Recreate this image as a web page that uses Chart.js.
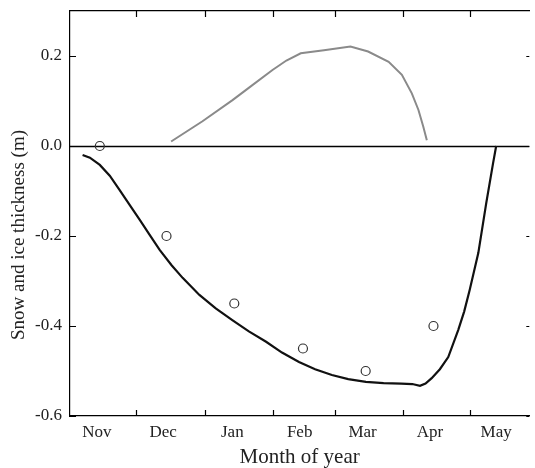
<!DOCTYPE html>
<html>
<head>
<meta charset="utf-8">
<script src="https://cdn.jsdelivr.net/npm/chart.js@4/dist/chart.umd.min.js"></script>
<style>
  html, body { margin: 0; padding: 0; background: #fff; }
  #wrap { width: 535px; height: 468px; }
</style>
</head>
<body>
<div id="wrap"><canvas id="chart"></canvas></div>
<script>
// days counted from 1 November
const iceDays = [5.7, 9, 13.5, 18, 22.5, 27, 31.6, 36, 40.6, 46, 51, 58.6, 66, 73.5, 81, 88.8, 96, 103.7, 111, 118.6, 126, 134, 142, 150, 155, 158.5, 161, 163.8, 167.5, 171.3, 175.8, 178.5, 181, 184.9, 188.5, 191.6, 193];
const iceThickness = [-0.020, -0.026, -0.042, -0.066, -0.098, -0.131, -0.164, -0.197, -0.231, -0.265, -0.293, -0.331, -0.361, -0.387, -0.412, -0.435, -0.459, -0.480, -0.496, -0.509, -0.518, -0.524, -0.527, -0.528, -0.529, -0.533, -0.528, -0.516, -0.496, -0.469, -0.409, -0.368, -0.320, -0.238, -0.127, -0.038, 0.000];

const snowDays = [45.8, 60, 73.6, 82, 91.7, 98, 104.5, 115, 127, 135, 144.3, 150.3, 154.8, 157.8, 160, 161.6];
const snowThickness = [0.010, 0.055, 0.102, 0.133, 0.169, 0.190, 0.206, 0.213, 0.221, 0.210, 0.187, 0.158, 0.117, 0.080, 0.043, 0.013];

const obsDays = [13.5, 43.7, 74.4, 105.5, 133.9, 164.6];
const obsThickness = [0.0, -0.2, -0.35, -0.45, -0.5, -0.4];

const monthLabels = ["Nov", "Dec", "Jan", "Feb", "Mar", "Apr", "May"];
const monthLabelDays = [12.2, 42.2, 73.5, 104, 132.5, 163, 193];
const monthStartDays = [30, 61, 92, 120, 151, 181];
const yTicks = [-0.6, -0.4, -0.2, 0.0, 0.2];

const FONT = "'Liberation Serif', 'Times New Roman', serif";

function pts(xs, ys) {
  return xs.map((x, i) => ({ x: x, y: ys[i] }));
}

// inward tick marks, zero line and the y title
const frame = {
  id: "frame",
  beforeDatasetsDraw(chart) {
    const { ctx, chartArea: a, scales } = chart;
    const y0 = Math.round(scales.y.getPixelForValue(0)) + 0.5;
    ctx.save();
    ctx.strokeStyle = "#000";
    ctx.lineWidth = 1.3;
    ctx.beginPath();
    ctx.moveTo(a.left, y0);
    ctx.lineTo(a.right, y0);
    ctx.stroke();
    ctx.restore();
  },
  afterDraw(chart) {
    const { ctx, chartArea: a, scales } = chart;
    ctx.save();
    ctx.strokeStyle = "#000";
    ctx.lineWidth = 1.2;
    ctx.beginPath();
    monthStartDays.forEach((d) => {
      const x = Math.round(scales.x.getPixelForValue(d)) + 0.5;
      ctx.moveTo(x, a.bottom);
      ctx.lineTo(x, a.bottom - 6);
      ctx.moveTo(x, a.top);
      ctx.lineTo(x, a.top + 6);
    });
    yTicks.forEach((v) => {
      const y = Math.round(scales.y.getPixelForValue(v)) + 0.5;
      ctx.moveTo(a.left, y);
      ctx.lineTo(a.left + 6, y);
      ctx.moveTo(a.right, y);
      ctx.lineTo(a.right - 3, y);
    });
    ctx.stroke();

    ctx.fillStyle = "#222";
    ctx.font = "19px " + FONT;
    ctx.textAlign = "center";
    ctx.textBaseline = "middle";
    ctx.translate(19, 235);
    ctx.rotate(-Math.PI / 2);
    ctx.fillText("Snow and ice thickness (m)", 0, 0);
    ctx.restore();
  },
};

new Chart(document.getElementById("chart"), {
  type: "scatter",
  data: {
    datasets: [
      {
        label: "Snow",
        data: pts(snowDays, snowThickness),
        showLine: true,
        borderColor: "#8a8a8a",
        borderWidth: 2,
        pointRadius: 0,
        tension: 0,
      },
      {
        label: "Ice",
        data: pts(iceDays, iceThickness),
        showLine: true,
        borderColor: "#111",
        borderWidth: 2.2,
        pointRadius: 0,
        tension: 0,
      },
      {
        label: "Observed",
        data: pts(obsDays, obsThickness),
        showLine: false,
        pointRadius: 4.5,
        pointBackgroundColor: "rgba(255,255,255,0)",
        pointBorderColor: "#333",
        pointBorderWidth: 1.2,
      },
    ],
  },
  options: {
    responsive: true,
    maintainAspectRatio: false,
    animation: false,
    layout: { padding: { left: 0, right: 3, top: 0, bottom: 0 } },
    plugins: { legend: { display: false }, tooltip: { enabled: false } },
    scales: {
      x: {
        type: "linear",
        position: "bottom",
        min: 0,
        max: 208,
        afterBuildTicks: (s) => {
          s.ticks = monthLabelDays.map((v) => ({ value: v }));
        },
        afterFit: (s) => {
          s.height = 52;
          s.paddingLeft = 0;
          s.paddingRight = 0;
        },
        grid: { display: false, drawTicks: false },
        border: { display: true, color: "#000", width: 1.2 },
        ticks: {
          padding: 6,
          autoSkip: false,
          maxRotation: 0,
          color: "#222",
          font: { family: FONT, size: 17 },
          callback: (v, i) => monthLabels[i],
        },
        title: {
          display: true,
          text: "Month of year",
          color: "#222",
          font: { family: FONT, size: 21, lineHeight: 1 },
          padding: { top: 0, bottom: 0 },
        },
      },
      xTop: {
        type: "linear",
        position: "top",
        min: 0,
        max: 208,
        afterFit: (s) => {
          s.height = 11;
          s.paddingLeft = 0;
          s.paddingRight = 0;
        },
        grid: { display: false, drawTicks: false },
        border: { display: true, color: "#000", width: 1.2 },
        ticks: { display: false },
      },
      y: {
        type: "linear",
        position: "left",
        min: -0.6,
        max: 0.3,
        afterBuildTicks: (s) => {
          s.ticks = yTicks.map((v) => ({ value: v }));
        },
        afterFit: (s) => {
          s.width = 70;
          s.paddingTop = 0;
          s.paddingBottom = 0;
        },
        grid: { display: false, drawTicks: false },
        border: { display: true, color: "#000", width: 1.2 },
        ticks: {
          padding: 8,
          color: "#222",
          font: { family: FONT, size: 17 },
          callback: (v) => v.toFixed(1),
        },
      },
    },
  },
  plugins: [frame],
});
</script>
</body>
</html>
